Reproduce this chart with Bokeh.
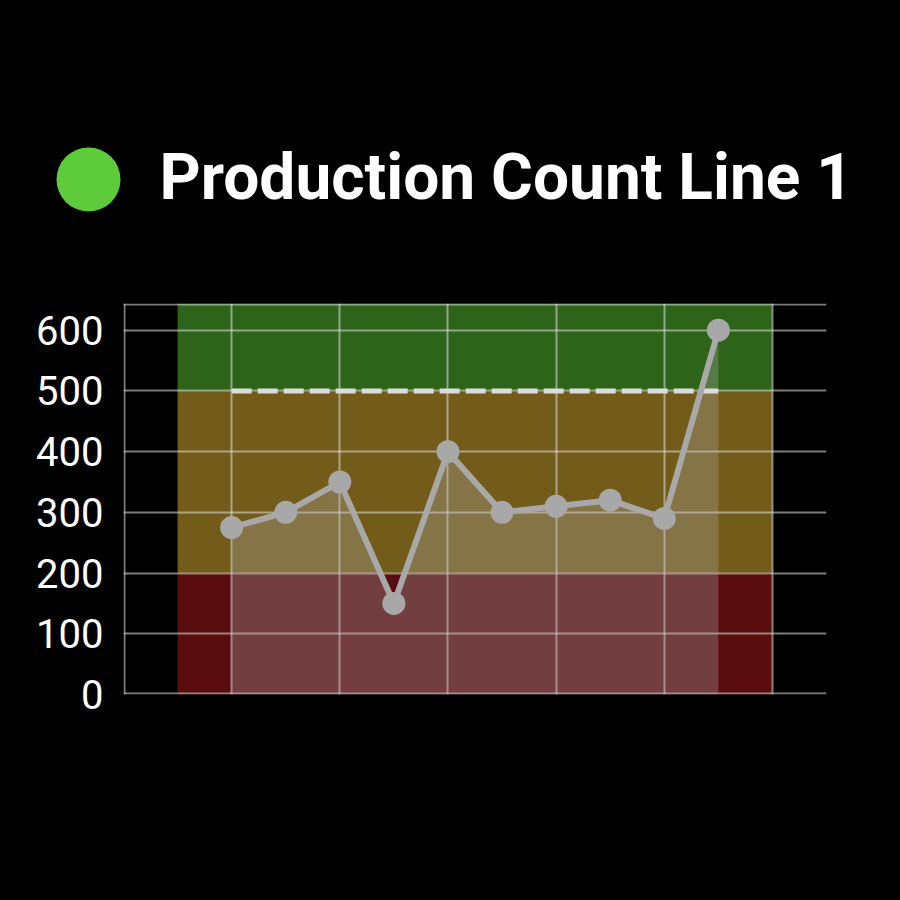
from bokeh.plotting import figure
from bokeh.layouts import column
from bokeh.models import FixedTicker, Range1d
from bokeh.core.properties import value
from bokeh.embed import file_html
from bokeh.resources import INLINE

# ---- data ----
title_text = "Production Count Line 1"
positions = [0, 1, 2, 3, 4, 5, 6, 7, 8, 9]
counts = [275, 300, 350, 150, 400, 300, 310, 320, 290, 600]
target = 500
band_bottoms = [0, 200, 500]
band_tops = [200, 500, 644]
band_colors = ["#590d0f", "#735b19", "#2e6419"]
y_ticks = [0, 100, 200, 300, 400, 500, 600]

W = 900
H1 = 288
H2 = 612

# ---- header (status dot + title) ----
hdr = figure(width=W, height=H1, x_range=Range1d(0, W), y_range=Range1d(0, H1),
             output_backend="svg", toolbar_location=None, min_border=0,
             background_fill_color="black", border_fill_color="black",
             outline_line_color=None)
hdr.axis.visible = False
hdr.grid.visible = False
hdr.circle(x=[88], y=[H1 - 179], radius=32, fill_color="#5ecb3a", line_color=None)
hdr.text(x=[159], y=[H1 - 177], text=[title_text], text_color="white",
         text_font=value("Roboto"), text_font_style="bold", text_font_size="64px",
         text_baseline="middle", text_align="left")

# ---- chart ----
p = figure(width=W, height=H2, x_range=Range1d(-2, 11), y_range=Range1d(0, 644),
           output_backend="svg", toolbar_location=None,
           min_border_left=123, min_border_right=74, min_border_top=15,
           min_border_bottom=206,
           background_fill_color="black", border_fill_color="black",
           outline_line_color=None)

try:
    hdr.frame_align = False
    p.frame_align = False
except Exception:
    pass

p.xaxis.visible = False
p.yaxis.ticker = FixedTicker(ticks=y_ticks)
p.yaxis.axis_line_color = None
p.yaxis.major_tick_line_color = None
p.yaxis.minor_tick_line_color = None
p.yaxis.major_label_text_color = "white"
p.yaxis.major_label_text_font = "Roboto"
p.yaxis.major_label_text_font_size = "40px"
p.yaxis.major_label_standoff = 14

# grid lines on the frame edges are nudged inside so they are drawn
p.ygrid.ticker = FixedTicker(ticks=[1.5] + y_ticks[1:] + [643])
p.xgrid.ticker = FixedTicker(ticks=[-1.98, 0, 2, 4, 6, 8, 10])
p.grid.grid_line_color = "#e0e0e0"
p.grid.grid_line_alpha = 0.55
p.grid.grid_line_width = 2

p.quad(left=-1, right=10, bottom=band_bottoms, top=band_tops,
       fill_color=band_colors, line_color=None, level="image")

p.varea(x=positions, y1=0, y2=counts, fill_color="#b0b0b0", fill_alpha=0.3)
p.line(x=[positions[0], positions[-1]], y=[target, target], line_color="#dcdcdc",
       line_width=5, line_dash="20 6")
p.line(x=positions, y=counts, line_color="#a8a8a8", line_width=6)
p.scatter(x=positions, y=counts, size=23, fill_color="#a8a8a8", line_color=None)

layout = column(hdr, p, spacing=0)
html = file_html(layout, INLINE)
html = html.replace("<head>", "<head><style>html,body{background:#000;margin:0;}</style>", 1)
open("out.html", "w").write(html)
